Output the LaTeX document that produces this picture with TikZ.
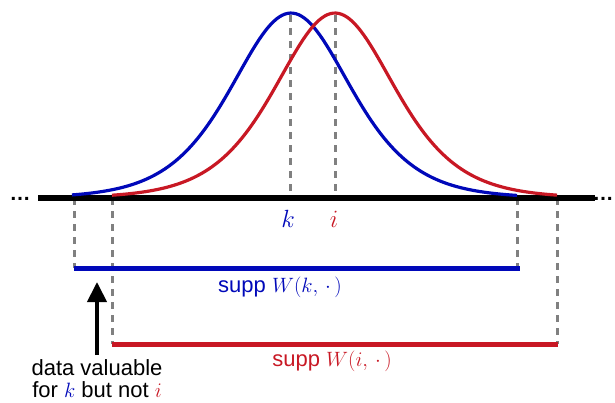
\documentclass[tikz,border=0pt]{standalone}
\usepackage{fontspec}
\setmainfont{Liberation Sans}
\usetikzlibrary{arrows.meta}
\definecolor{bluec}{RGB}{0,8,185}
\definecolor{redc}{RGB}{200,24,36}
\definecolor{guidec}{RGB}{128,128,128}
\begin{document}
\begin{tikzpicture}[x=1pt,y=-1pt,
  guide/.style={draw=guidec, line width=3pt, dash pattern=on 7pt off 6pt},
  axisline/.style={draw=black, line width=5.5pt},
  curve/.style={line width=3.2pt, line join=round},
  bar/.style={line width=5pt},
  lbl/.style={inner sep=0pt, font=\fontsize{22}{22}\selectfont},
  biglbl/.style={inner sep=0pt, font=\fontsize{25}{25}\selectfont},
  dotlbl/.style={inner sep=0pt, font=\fontsize{21}{21}\selectfont\bfseries},
  pointer/.style={draw=black, line width=4pt, -{Triangle[length=20pt,width=19pt]}}]
\useasboundingbox (0,0) rectangle (615,402);
% coordinates
\coordinate (axL) at (38,198);
\coordinate (axR) at (595,198);
\coordinate (bL) at (74,198);
\coordinate (bR) at (517,198);
\coordinate (rL) at (112,198);
\coordinate (rR) at (557,198);
\coordinate (bBL) at (74,268);
\coordinate (bBR) at (520,268);
\coordinate (rBL) at (112,344);
\coordinate (rBR) at (558,344);
\coordinate (pkB) at (290,15);
\coordinate (ftB) at (290,198);
\coordinate (pkR) at (335,15);
\coordinate (ftR) at (335,198);
\coordinate (tip) at (97,282);
% dashed guides
\draw[guide] (pkB) -- (ftB);
\draw[guide] (pkR) -- (ftR);
\draw[guide] (bL) -- (bBL);
\draw[guide] (bR) -- (bBR -| bR);
\draw[guide] (rL) -- (rBL);
\draw[guide] (rR) -- (rBR -| rR);
% axis
\draw[axisline] (axL) -- (axR);
\node[dotlbl, anchor=base] (dotsL) at (20,200) {…};
\node[dotlbl, anchor=base] (dotsR) at (603,200) {…};
% curves
\draw[curve, draw=bluec] plot[domain=72:517, samples=160, smooth]
  (\x, {198-185*4/(exp((\x-291)/80)+exp(-(\x-291)/80))^2});
\draw[curve, draw=redc] plot[domain=112:557, samples=160, smooth]
  (\x, {198-185*4/(exp((\x-335)/80)+exp(-(\x-335)/80))^2});
% axis labels
\node[biglbl, anchor=base, text=bluec] (klbl) at (288,227) {$k$};
\node[biglbl, anchor=base, text=redc] (ilbl) at (334,227) {$i$};
% support bars
\draw[bar, draw=bluec] (bBL) -- (bBR);
\draw[bar, draw=redc] (rBL) -- (rBR);
\node[lbl, anchor=base, text=bluec] (suppk) at (280,292) {supp $W(k,\,\cdot\,)$};
\node[lbl, anchor=base, text=redc] (suppi) at (332,366) {supp $W(i,\,\cdot\,)$};
% note
\node[lbl, anchor=north, align=center] (note) at (97,359)
  {data valuable\\for \textcolor{bluec}{$k$} but not \textcolor{redc}{$i$}};
\draw[pointer] ([yshift=4pt]note.north) -- (tip);
\end{tikzpicture}
\end{document}
